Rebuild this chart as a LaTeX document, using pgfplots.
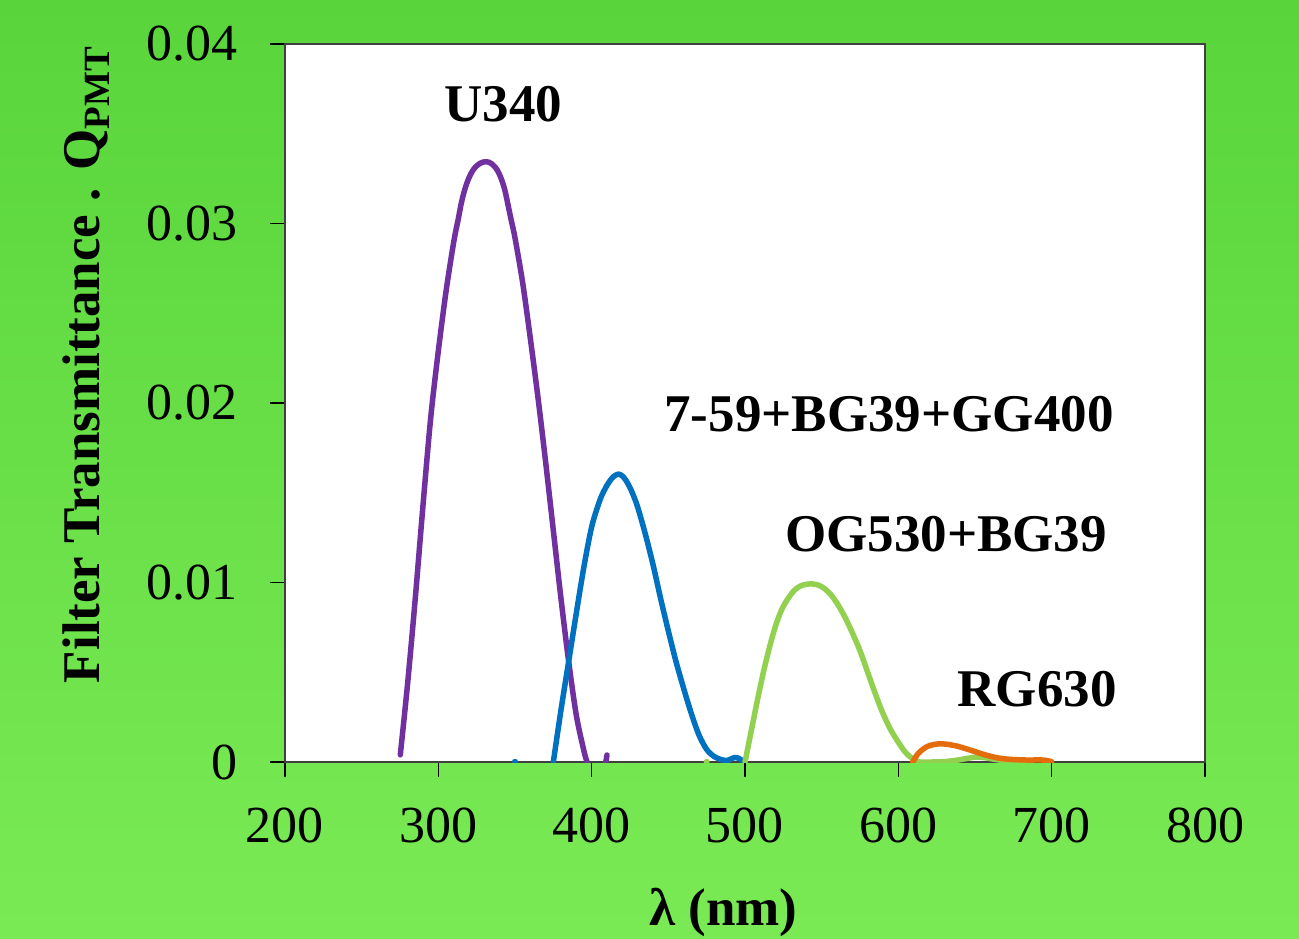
\documentclass[border=0pt]{standalone}
\usepackage{pgfplots}
\pgfplotsset{compat=1.18}
\usepackage{fontspec}
\setmainfont{Liberation Serif}
\definecolor{bgtop}{RGB}{89,213,59}
\definecolor{bgbot}{RGB}{122,234,84}
\definecolor{cU}{RGB}{112,48,160}
\definecolor{cB}{RGB}{0,112,192}
\definecolor{cG}{RGB}{146,208,80}
\definecolor{cR}{RGB}{228,108,10}
\begin{document}
\begin{tikzpicture}
\useasboundingbox (-285pt,-176pt) rectangle (1014pt,762pt);
\shade[top color=bgtop, bottom color=bgbot] (-285pt,-176pt) rectangle (1014pt,762pt);
\begin{axis}[at={(0pt,0pt)}, anchor=south west, scale only axis,
  width=920pt, height=718pt,
  xmin=200, xmax=800, ymin=0, ymax=0.04,
  axis background/.style={fill=white},
  xtick={200,300,400,500,600,700,800},
  xticklabels={200,300,400,500,600,700,800},
  ytick={0,0.01,0.02,0.03,0.04},
  yticklabels={0,0.01,0.02,0.03,0.04},
  scaled y ticks=false,
  tick pos=left, tick align=outside, major tick length=15pt,
  tick style={black, line width=1.5pt},
  axis line style={line width=1.5pt, black!75},
  ticklabel style={font=\fontsize{52}{60}\selectfont},
  yticklabel style={inner sep=0pt, xshift=-32pt},
  xticklabel style={inner sep=0pt, yshift=-31pt},
  /pgf/number format/assume math mode=true,
  every axis plot/.append style={line width=5.5pt, line cap=round, line join=round},
]
% U340
\addplot[cU, smooth] coordinates {
(275.2,0.0004)(280,0.0044)(285,0.00915)(290,0.0143)(295,0.01915)
(300,0.0229)(305,0.0262)(310,0.02895)(313,0.03025)(315,0.03114)
(317,0.03182)(319,0.03234)(321,0.03273)(323,0.03302)(325,0.03321)
(327,0.03334)(329,0.03342)(331,0.03344)(332.8,0.03342)(334.6,0.03334)
(336.3,0.03321)(338.1,0.03302)(339.9,0.03273)(341.7,0.03234)(343.5,0.03182)
(345.2,0.03114)(347.5,0.0302)(350,0.0292)(355,0.0267)(360,0.0236)(365,0.0203)
(370,0.0167)(375,0.0129)(380,0.0091)(385,0.0056)(390,0.0026)
(395,0.0006)(397,0.0)};
\addplot[cU] coordinates {(409.2,0.0)(410.0,0.00039)};
% 7-59+BG39+GG400
\addplot[cB] coordinates {(349.8,0.00003)(350.2,0.00003)};
\addplot[cB, smooth] coordinates {
(375,0.0)(380,0.0029)(385,0.0056)(390,0.0083)(395,0.0109)
(400,0.0131)(405,0.0145)(408,0.0151)(411,0.01555)(414,0.01588)
(417.4,0.01604)(420.5,0.0159)(423.5,0.01553)(426.5,0.0150)(430,0.0142)
(435,0.0127)(440,0.0110)(445,0.0091)(450,0.0073)(455,0.0056)
(460,0.0041)(465,0.0027)(470,0.0015)(475,0.0007)(480,0.0003)
(485,0.00012)(489,0.0001)(493,0.00025)(496,0.0002)(499,0.00003)};
% OG530+BG39
\addplot[cG] coordinates {(474.8,0.00003)(475.2,0.00003)};
\addplot[cG, smooth] coordinates {
(500,0.0)(504,0.0017)(508,0.0034)(512,0.0050)(516,0.0064)
(520,0.0076)(524,0.0085)(528,0.0091)(532,0.00955)(536,0.0098)
(540,0.0099)(544,0.00992)(548,0.00985)(552,0.00965)(556,0.00932)
(560,0.00885)(565,0.0081)(570,0.0072)(575,0.0062)(580,0.0050)
(585,0.0038)(590,0.0027)(595,0.0018)(600,0.0011)(605,0.0005)
(610,0.00015)(614,0.0)(622,0.0)(630,0.00002)(638,0.0001)
(645,0.0002)(651,0.00028)(658,0.00022)(665,0.00012)(675,0.00004)(685,0.0)};
% RG630
\addplot[cR, smooth] coordinates {
(609.4,0.0)(613.0,0.00048)(618.5,0.00085)(625.0,0.001)(630.4,0.001)
(638.0,0.00089)(646.7,0.00067)(655.4,0.00043)(664.1,0.00024)(672.8,0.00015)
(683.7,0.00011)(694.5,0.00011)(700.0,0.00002)};
\end{axis}
\begin{scope}[every node/.style={font=\fontsize{53}{60}\selectfont\bfseries, inner sep=0pt, anchor=base}]
\node at (218.5pt,640pt) {U340};
\node at (604pt,330pt) {7-59+BG39+GG400};
\node at (661pt,211pt) {OG530+BG39};
\node at (752pt,56pt) {RG630};
\node at (438.5pt,-163pt) {λ (nm)};
\node[rotate=90] at (-185pt,397pt) {Filter Transmittance . Q\raisebox{-10pt}{\fontsize{37}{40}\selectfont PMT}};
\end{scope}
\end{tikzpicture}
\end{document}
